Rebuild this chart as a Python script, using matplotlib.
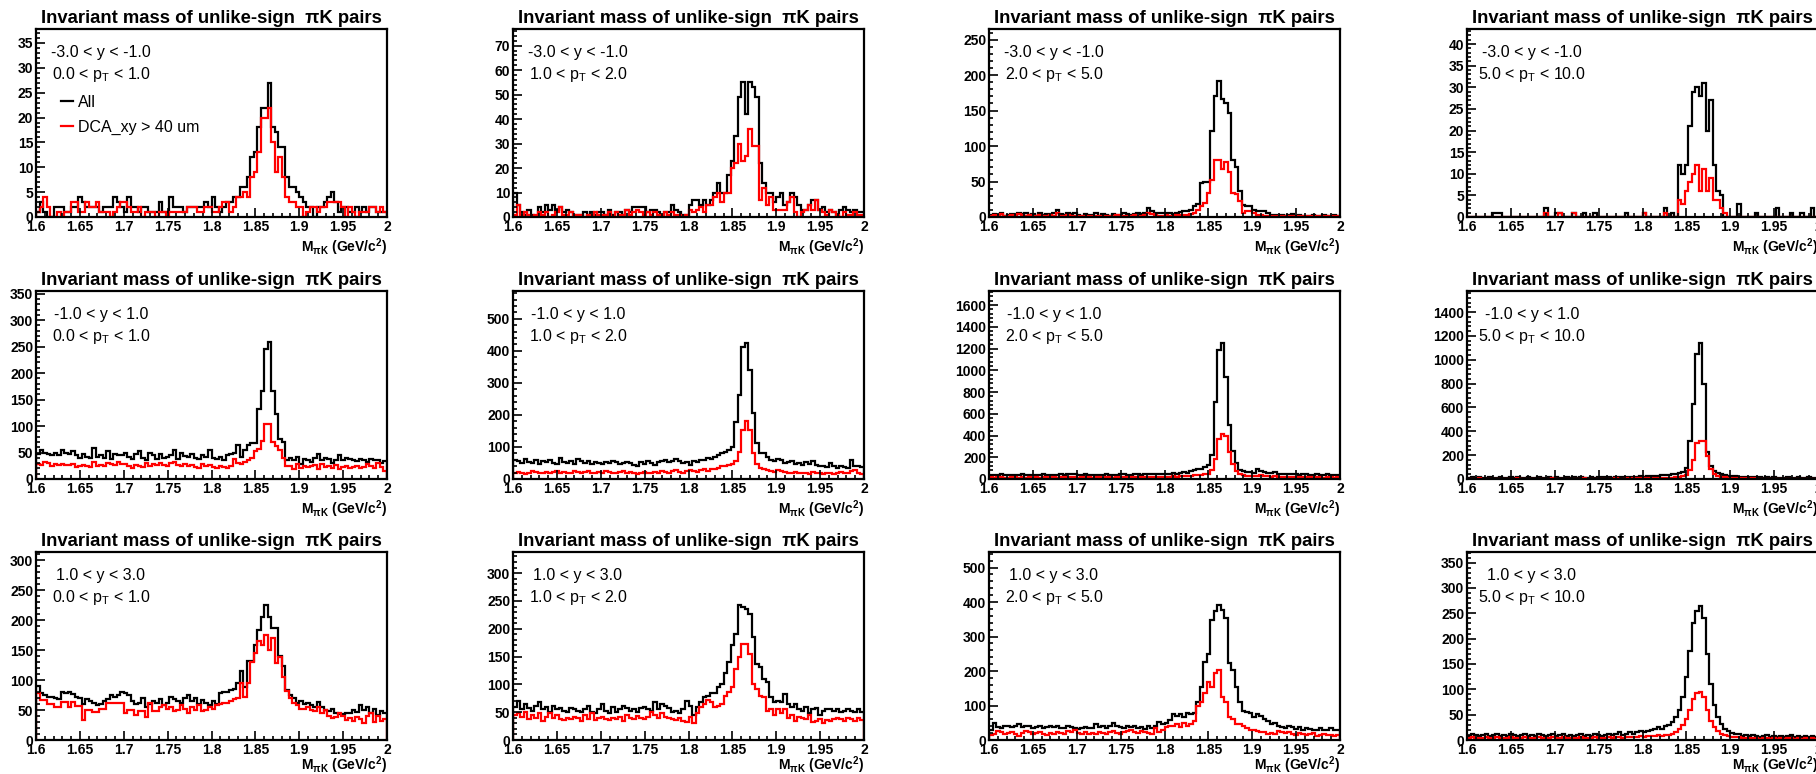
import numpy as np
import matplotlib.pyplot as plt
from matplotlib.ticker import MultipleLocator, AutoMinorLocator, FuncFormatter

# 100 bins of 4 MeV between 1.6 and 2.0 GeV/c^2
edges = np.linspace(1.6, 2.0, 101)

y_labels = ['-3.0 < y < -1.0', '-1.0 < y < 1.0', '1.0 < y < 3.0']
pt_labels = ['0.0 < p$_{T}$ < 1.0', '1.0 < p$_{T}$ < 2.0',
             '2.0 < p$_{T}$ < 5.0', '5.0 < p$_{T}$ < 10.0']

# ---- -3 < y < -1 ----
all_bwd_pt01 = [1, 3, 1, 0, 0, 2, 2, 2, 1, 1,
                2, 2, 4, 3, 2, 2, 2, 2, 1, 2,
                2, 2, 4, 3, 2, 1, 4, 2, 2, 1,
                2, 2, 1, 1, 1, 3, 1, 1, 4, 2,
                2, 2, 1, 2, 2, 2, 2, 2, 3, 2,
                4, 2, 1, 2, 3, 3, 4, 4, 6, 6,
                8, 12, 13, 18, 22, 22, 27, 18, 17, 14,
                14, 8, 6, 6, 5, 4, 3, 2, 2, 0,
                2, 2, 3, 4, 5, 3, 1, 2, 2, 1,
                1, 2, 1, 2, 1, 2, 2, 1, 1, 1]
dca_bwd_pt01 = [1, 2, 4, 2, 0, 0, 1, 0, 1, 1,
                3, 3, 1, 1, 3, 2, 2, 3, 1, 1,
                1, 0, 1, 2, 3, 3, 2, 1, 1, 2,
                0, 1, 1, 1, 0, 1, 1, 0, 1, 1,
                1, 1, 1, 2, 2, 2, 1, 1, 2, 2,
                1, 1, 2, 3, 3, 1, 2, 4, 4, 5,
                4, 8, 9, 13, 20, 20, 22, 15, 9, 12,
                8, 4, 3, 3, 2, 2, 0, 1, 2, 2,
                1, 2, 2, 3, 3, 3, 3, 2, 0, 2,
                1, 0, 1, 1, 1, 2, 2, 1, 2, 1]

all_bwd_pt12 = [10, 5, 2, 1, 3, 1, 0, 4, 2, 5,
                3, 5, 3, 4, 2, 3, 2, 1, 1, 1,
                2, 1, 2, 1, 2, 2, 1, 3, 1, 2,
                2, 1, 3, 2, 4, 4, 4, 4, 2, 3,
                3, 2, 1, 2, 2, 5, 3, 2, 1, 1,
                5, 7, 7, 5, 7, 5, 7, 10, 14, 10,
                10, 17, 23, 33, 49, 55, 42, 55, 53, 49,
                22, 14, 10, 10, 6, 8, 10, 5, 6, 10,
                8, 5, 3, 3, 5, 7, 7, 3, 4, 2,
                3, 2, 1, 3, 4, 3, 2, 3, 2, 2]
dca_bwd_pt12 = [1, 5, 1, 2, 1, 0, 1, 2, 1, 2,
                0, 1, 2, 4, 1, 1, 2, 1, 1, 1,
                0, 1, 1, 2, 1, 1, 1, 2, 0, 2,
                1, 1, 3, 1, 2, 3, 2, 1, 2, 1,
                2, 1, 1, 2, 1, 2, 1, 1, 0, 1,
                3, 2, 3, 4, 2, 5, 5, 8, 10, 6,
                10, 10, 20, 22, 30, 23, 25, 36, 29, 29,
                7, 12, 5, 8, 3, 3, 3, 3, 6, 8,
                2, 0, 2, 3, 5, 3, 7, 3, 2, 1,
                3, 2, 1, 0, 2, 1, 1, 2, 1, 1]

all_bwd_pt25 = [3, 4, 3, 5, 2, 3, 4, 3, 5, 4,
                6, 3, 4, 2, 6, 3, 4, 3, 5, 10,
                4, 3, 5, 4, 6, 3, 2, 4, 3, 3,
                5, 2, 4, 3, 2, 4, 3, 3, 5, 4,
                3, 4, 5, 4, 6, 12, 8, 6, 5, 5,
                6, 5, 4, 6, 7, 8, 9, 10, 15, 18,
                48, 49, 50, 121, 170, 191, 166, 160, 147, 80,
                71, 36, 17, 16, 15, 10, 9, 8, 8, 5,
                3, 3, 2, 3, 2, 3, 4, 2, 3, 2,
                2, 1, 3, 2, 2, 3, 1, 2, 3, 2]
dca_bwd_pt25 = [2, 3, 2, 4, 2, 2, 3, 2, 4, 3,
                2, 3, 2, 1, 3, 2, 2, 3, 1, 6,
                2, 2, 3, 2, 2, 1, 2, 2, 1, 2,
                2, 1, 2, 1, 1, 2, 3, 2, 2, 1,
                2, 3, 2, 2, 3, 6, 4, 3, 2, 2,
                3, 2, 2, 3, 3, 3, 3, 4, 6, 10,
                15, 20, 34, 52, 80, 80, 67, 77, 64, 34,
                32, 22, 6, 8, 8, 5, 3, 3, 2, 2,
                2, 1, 2, 1, 2, 1, 1, 2, 1, 1,
                2, 1, 1, 2, 1, 1, 1, 2, 1, 1]

all_bwd_pt510 = [0, 0, 0, 0, 0, 0, 0, 1, 1, 1,
                 0, 0, 0, 0, 0, 0, 0, 0, 0, 0,
                 0, 0, 2, 0, 0, 1, 1, 0, 0, 0,
                 1, 0, 0, 1, 0, 0, 1, 0, 0, 0,
                 0, 0, 0, 0, 0, 1, 0, 0, 0, 0,
                 1, 0, 0, 0, 0, 0, 2, 0, 1, 0,
                 12, 10, 12, 21, 29, 30, 28, 31, 20, 27,
                 12, 6, 5, 0, 0, 0, 0, 3, 0, 0,
                 0, 0, 1, 0, 0, 0, 0, 0, 2, 0,
                 0, 0, 1, 0, 0, 1, 0, 0, 2, 0]
dca_bwd_pt510 = [0, 0, 0, 0, 0, 0, 0, 0, 0, 0,
                 0, 0, 0, 0, 0, 0, 0, 0, 0, 0,
                 0, 0, 1, 0, 0, 0, 1, 0, 0, 0,
                 1, 0, 0, 0, 0, 0, 0, 0, 0, 0,
                 0, 0, 0, 0, 0, 0, 0, 0, 0, 0,
                 1, 0, 0, 0, 0, 0, 1, 0, 0, 0,
                 4, 3, 6, 8, 10, 12, 6, 11, 6, 9,
                 4, 4, 2, 1, 0, 0, 0, 0, 0, 0,
                 0, 0, 0, 0, 0, 0, 0, 0, 0, 0,
                 0, 0, 0, 0, 0, 0, 0, 0, 0, 0]

# ---- -1 < y < 1 ----
all_mid_pt01 = [48, 55, 50, 48, 46, 50, 45, 55, 50, 48,
                52, 45, 40, 47, 42, 40, 58, 42, 45, 40,
                52, 38, 48, 45, 46, 50, 41, 38, 48, 52,
                40, 35, 50, 45, 38, 48, 40, 42, 45, 55,
                38, 50, 44, 42, 48, 40, 38, 45, 42, 55,
                40, 38, 42, 36, 45, 47, 49, 65, 42, 55,
                65, 68, 68, 132, 166, 245, 258, 166, 122, 75,
                70, 35, 40, 35, 42, 28, 38, 35, 32, 40,
                48, 35, 40, 38, 30, 36, 45, 35, 40, 38,
                35, 34, 38, 36, 32, 38, 35, 36, 30, 34]
dca_mid_pt01 = [28, 27, 32, 30, 25, 28, 27, 29, 26, 26,
                28, 22, 24, 27, 25, 23, 32, 25, 26, 24,
                30, 28, 27, 32, 29, 28, 25, 20, 26, 24,
                22, 30, 25, 28, 26, 30, 27, 24, 30, 32,
                27, 25, 28, 24, 26, 22, 20, 28, 25, 26,
                22, 21, 24, 22, 20, 24, 38, 30, 28, 33,
                35, 40, 52, 56, 72, 103, 103, 70, 62, 54,
                40, 24, 25, 18, 28, 20, 25, 22, 24, 26,
                18, 28, 22, 25, 20, 26, 18, 22, 24, 20,
                22, 25, 20, 22, 28, 24, 20, 30, 22, 16]

all_mid_pt12 = [58, 55, 50, 62, 52, 50, 58, 48, 55, 52,
                60, 50, 48, 65, 52, 50, 55, 48, 62, 55,
                50, 55, 48, 52, 50, 48, 52, 50, 55, 52,
                48, 50, 52, 50, 45, 40, 52, 48, 55, 50,
                45, 52, 55, 60, 52, 55, 62, 55, 50, 52,
                45, 55, 52, 60, 58, 65, 62, 68, 75, 80,
                85, 90, 100, 178, 262, 412, 424, 341, 206, 112,
                80, 80, 68, 60, 55, 62, 58, 50, 52, 55,
                48, 50, 45, 52, 48, 55, 45, 42, 40, 38,
                50, 40, 35, 42, 38, 35, 58, 40, 42, 38]
dca_mid_pt12 = [20, 22, 18, 15, 20, 25, 22, 18, 20, 22,
                18, 22, 25, 20, 22, 18, 20, 25, 22, 20,
                22, 25, 20, 18, 22, 20, 25, 22, 20, 18,
                22, 25, 20, 22, 18, 15, 20, 22, 18, 20,
                22, 20, 25, 22, 18, 25, 28, 22, 20, 25,
                28, 25, 22, 28, 30, 25, 32, 30, 35, 40,
                40, 45, 48, 55, 84, 154, 180, 154, 80, 47,
                33, 31, 28, 25, 22, 28, 25, 22, 20, 18,
                22, 20, 18, 20, 15, 22, 18, 20, 15, 18,
                20, 15, 18, 22, 18, 20, 25, 28, 18, 15]

all_mid_pt25 = [40, 35, 38, 42, 36, 40, 38, 35, 40, 42,
                38, 36, 40, 38, 35, 42, 38, 40, 36, 38,
                42, 40, 45, 50, 42, 40, 38, 42, 40, 38,
                36, 40, 38, 42, 40, 38, 40, 42, 45, 40,
                38, 45, 42, 40, 48, 45, 42, 48, 45, 50,
                48, 45, 52, 50, 55, 60, 58, 75, 80, 90,
                95, 110, 130, 225, 710, 1188, 1250, 935, 494, 262,
                145, 83, 70, 65, 60, 55, 90, 75, 60, 55,
                52, 60, 50, 48, 45, 42, 48, 45, 40, 42,
                45, 40, 38, 42, 40, 38, 42, 36, 38, 40]
dca_mid_pt25 = [15, 12, 18, 15, 10, 12, 15, 18, 12, 14,
                12, 15, 10, 14, 12, 15, 18, 12, 15, 12,
                18, 15, 20, 18, 15, 12, 15, 18, 15, 12,
                15, 18, 12, 15, 14, 12, 18, 15, 20, 15,
                15, 18, 20, 15, 22, 18, 20, 22, 18, 20,
                22, 20, 25, 22, 25, 28, 30, 32, 35, 38,
                40, 45, 50, 80, 185, 370, 417, 400, 247, 139,
                71, 45, 35, 30, 28, 25, 30, 35, 28, 25,
                22, 25, 20, 22, 18, 20, 15, 18, 20, 15,
                18, 15, 12, 15, 18, 12, 15, 14, 12, 15]

all_mid_pt510 = [12, 15, 10, 14, 12, 10, 15, 12, 10, 14,
                 12, 10, 15, 12, 14, 10, 12, 15, 12, 10,
                 14, 12, 10, 15, 12, 14, 10, 12, 15, 12,
                 14, 12, 15, 12, 10, 14, 12, 15, 18, 14,
                 15, 12, 18, 15, 14, 18, 15, 20, 18, 22,
                 20, 22, 25, 22, 28, 30, 32, 35, 40, 45,
                 50, 60, 92, 316, 633, 1050, 1143, 800, 224, 112,
                 64, 50, 40, 35, 28, 25, 22, 20, 18, 20,
                 15, 18, 15, 14, 12, 15, 12, 14, 12, 10,
                 12, 14, 10, 12, 15, 12, 10, 14, 12, 10]
dca_mid_pt510 = [3, 4, 2, 5, 3, 4, 2, 3, 4, 3,
                 2, 4, 3, 2, 5, 3, 4, 2, 3, 4,
                 3, 2, 4, 3, 5, 2, 3, 4, 3, 2,
                 4, 3, 2, 5, 3, 4, 3, 2, 4, 3,
                 3, 4, 5, 3, 4, 5, 4, 5, 6, 5,
                 6, 5, 7, 6, 8, 8, 10, 10, 12, 15,
                 18, 25, 35, 75, 162, 300, 320, 316, 190, 80,
                 40, 25, 18, 14, 10, 8, 7, 6, 5, 6,
                 4, 5, 4, 3, 4, 3, 4, 3, 2, 3,
                 3, 4, 2, 3, 4, 3, 2, 3, 4, 3]

# ---- 1 < y < 3 ----
all_fwd_pt01 = [90, 78, 75, 72, 72, 70, 68, 80, 78, 80,
                76, 72, 70, 60, 68, 65, 62, 58, 60, 65,
                68, 75, 72, 75, 80, 78, 75, 65, 60, 62,
                70, 55, 60, 65, 62, 68, 58, 62, 72, 68,
                65, 62, 70, 75, 65, 70, 60, 66, 62, 58,
                65, 60, 78, 80, 80, 83, 85, 95, 116, 88,
                132, 132, 159, 184, 206, 226, 206, 187, 187, 140,
                123, 84, 75, 70, 62, 65, 60, 62, 58, 55,
                63, 55, 50, 48, 52, 45, 44, 43, 45, 45,
                50, 46, 58, 50, 55, 45, 52, 42, 48, 45]
dca_fwd_pt01 = [78, 67, 67, 60, 60, 55, 55, 63, 63, 55,
                63, 57, 57, 33, 50, 50, 47, 47, 52, 52,
                62, 62, 62, 62, 62, 45, 50, 50, 42, 49,
                49, 38, 62, 49, 49, 55, 58, 52, 55, 48,
                50, 58, 52, 45, 55, 50, 58, 48, 50, 55,
                52, 58, 60, 62, 62, 65, 68, 70, 95, 72,
                96, 130, 145, 165, 158, 175, 150, 170, 128, 138,
                105, 82, 70, 62, 58, 52, 52, 55, 50, 48,
                55, 45, 50, 40, 36, 38, 45, 40, 34, 36,
                32, 38, 35, 28, 40, 45, 30, 40, 32, 35]

all_fwd_pt12 = [60, 70, 55, 65, 58, 52, 62, 68, 55, 60,
                50, 62, 55, 58, 52, 50, 58, 55, 52, 50,
                55, 62, 50, 48, 55, 65, 52, 48, 60, 50,
                55, 62, 58, 52, 55, 50, 58, 60, 55, 52,
                68, 55, 65, 62, 58, 50, 52, 48, 55, 70,
                62, 45, 60, 68, 78, 80, 85, 85, 95, 100,
                120, 140, 170, 190, 243, 240, 235, 226, 185, 137,
                131, 110, 104, 77, 68, 70, 68, 82, 65, 60,
                65, 55, 52, 60, 48, 55, 58, 45, 52, 55,
                55, 52, 55, 50, 53, 55, 52, 50, 55, 50]
dca_fwd_pt12 = [45, 48, 42, 50, 38, 45, 40, 48, 35, 42,
                48, 40, 45, 38, 36, 40, 38, 42, 40, 35,
                45, 38, 48, 36, 40, 42, 38, 36, 40, 38,
                42, 35, 45, 40, 38, 44, 40, 38, 42, 50,
                45, 40, 48, 42, 40, 38, 36, 40, 35, 32,
                42, 30, 48, 60, 65, 72, 68, 60, 62, 65,
                80, 87, 95, 128, 150, 172, 173, 155, 101, 92,
                80, 78, 53, 56, 45, 55, 48, 55, 40, 45,
                35, 42, 40, 38, 45, 32, 35, 38, 30, 36,
                35, 37, 40, 37, 35, 40, 38, 35, 40, 36]

all_fwd_pt25 = [30, 50, 38, 35, 40, 42, 38, 40, 45, 38,
                42, 40, 36, 38, 42, 35, 38, 40, 38, 42,
                36, 34, 40, 38, 35, 32, 36, 38, 35, 34,
                45, 38, 40, 35, 42, 48, 40, 38, 36, 42,
                38, 40, 35, 38, 32, 40, 36, 42, 52, 45,
                50, 58, 76, 71, 76, 66, 78, 75, 78, 110,
                153, 226, 250, 348, 375, 391, 377, 353, 223, 202,
                155, 110, 85, 80, 78, 66, 75, 70, 60, 55,
                45, 50, 42, 38, 35, 40, 38, 32, 38, 30,
                35, 32, 30, 28, 35, 30, 28, 35, 30, 28]
dca_fwd_pt25 = [15, 18, 25, 22, 18, 20, 22, 18, 12, 20,
                25, 22, 18, 20, 22, 18, 15, 20, 18, 22,
                20, 18, 25, 22, 28, 20, 18, 22, 16, 20,
                18, 22, 20, 18, 22, 25, 20, 18, 22, 25,
                28, 22, 20, 25, 22, 20, 18, 35, 22, 28,
                38, 42, 40, 45, 38, 48, 42, 45, 56, 100,
                110, 136, 168, 155, 194, 202, 124, 110, 66, 61,
                47, 45, 40, 35, 30, 28, 25, 22, 22, 18,
                20, 18, 25, 22, 20, 22, 18, 15, 20, 18,
                15, 18, 20, 12, 15, 18, 14, 15, 12, 15]

all_fwd_pt510 = [8, 12, 10, 8, 10, 12, 8, 10, 12, 8,
                 10, 8, 12, 10, 8, 10, 12, 8, 10, 8,
                 12, 10, 8, 10, 12, 8, 10, 12, 8, 10,
                 8, 10, 12, 8, 10, 8, 12, 10, 8, 10,
                 12, 10, 12, 15, 10, 12, 15, 12, 15, 18,
                 15, 18, 20, 22, 25, 22, 28, 30, 35, 45,
                 60, 85, 125, 175, 230, 255, 265, 240, 170, 110,
                 70, 45, 32, 22, 18, 14, 12, 12, 8, 10,
                 8, 10, 8, 6, 8, 10, 6, 8, 6, 8,
                 6, 8, 10, 6, 8, 6, 8, 6, 8, 6]
dca_fwd_pt510 = [3, 5, 4, 3, 4, 5, 3, 4, 5, 3,
                 4, 3, 5, 4, 3, 4, 5, 3, 4, 3,
                 5, 4, 3, 4, 5, 3, 4, 5, 3, 4,
                 3, 4, 5, 3, 4, 3, 5, 4, 3, 4,
                 5, 4, 5, 6, 4, 5, 6, 5, 6, 7,
                 6, 7, 8, 8, 9, 8, 10, 10, 12, 15,
                 22, 30, 42, 60, 80, 92, 95, 85, 60, 38,
                 25, 18, 12, 10, 7, 6, 5, 5, 3, 4,
                 3, 4, 3, 2, 3, 4, 2, 3, 2, 3,
                 2, 3, 4, 2, 3, 2, 3, 2, 3, 2]

all_hists = [[all_bwd_pt01, all_bwd_pt12, all_bwd_pt25, all_bwd_pt510],
             [all_mid_pt01, all_mid_pt12, all_mid_pt25, all_mid_pt510],
             [all_fwd_pt01, all_fwd_pt12, all_fwd_pt25, all_fwd_pt510]]
dca_hists = [[dca_bwd_pt01, dca_bwd_pt12, dca_bwd_pt25, dca_bwd_pt510],
             [dca_mid_pt01, dca_mid_pt12, dca_mid_pt25, dca_mid_pt510],
             [dca_fwd_pt01, dca_fwd_pt12, dca_fwd_pt25, dca_fwd_pt510]]

# frame ranges as drawn in the canvas
y_max = [[37.8, 76.8, 265, 43.5],
         [355, 587, 1729, 1577],
         [314, 338, 545, 371]]
y_step = [[5, 10, 50, 5],
          [50, 100, 200, 200],
          [50, 50, 100, 50]]

plt.rcParams['font.family'] = ['Liberation Sans', 'DejaVu Sans']
plt.rcParams['font.weight'] = 'bold'
plt.rcParams['mathtext.default'] = 'regular'

W, H = 1816, 774
fig = plt.figure(figsize=(W / 100, H / 100), dpi=100)

col_left = [36, 513, 989, 1467]
row_top = [29, 291, 552]
ax_w, ax_h = 351, 188
xlabel_y = [-0.16, -0.16, -0.135]

for i in range(3):
    for j in range(4):
        ax = fig.add_axes([col_left[j] / W, 1 - (row_top[i] + ax_h) / H, ax_w / W, ax_h / H])
        h_all = ax.stairs(all_hists[i][j], edges, color='black', lw=1.6)
        h_dca = ax.stairs(dca_hists[i][j], edges, color='red', lw=1.6)

        ax.set_xlim(1.6, 2.0)
        ax.set_ylim(0, y_max[i][j])
        ax.xaxis.set_major_locator(MultipleLocator(0.05))
        ax.xaxis.set_minor_locator(MultipleLocator(0.01))
        ax.xaxis.set_major_formatter(FuncFormatter(lambda v, p: f'{v:g}'))
        ax.yaxis.set_major_locator(MultipleLocator(y_step[i][j]))
        ax.yaxis.set_minor_locator(AutoMinorLocator(5))
        ax.tick_params(which='both', direction='in', top=False, right=False,
                       width=1.2, labelsize=10)
        ax.tick_params(which='major', length=6.5)
        ax.tick_params(which='minor', length=3.2)
        ax.tick_params(axis='x', pad=2)
        ax.tick_params(axis='y', pad=2)
        for lbl in ax.get_xticklabels() + ax.get_yticklabels():
            lbl.set_fontweight('bold')
        for s in ax.spines.values():
            s.set_linewidth(1.6)

        ax.set_title('Invariant mass of unlike-sign  πK pairs', fontsize=13.3,
                     fontweight='bold', pad=4)
        ax.text(1.0, xlabel_y[i], 'M$_{πK}$ (GeV/c$^{2}$)', transform=ax.transAxes,
                ha='right', va='center', fontsize=10, fontweight='bold')

        ax.text(0.185, 0.873, y_labels[i], transform=ax.transAxes,
                ha='center', va='center', fontsize=11.5, fontweight='normal')
        ax.text(0.185, 0.757, pt_labels[j], transform=ax.transAxes,
                ha='center', va='center', fontsize=11.5, fontweight='normal')

        if i == 0 and j == 0:
            ax.legend([h_all, h_dca], ['All', 'DCA_xy > 40 um'],
                      loc='upper left', bbox_to_anchor=(0.07, 0.65),
                      frameon=False, borderpad=0, borderaxespad=0,
                      handlelength=0.8, handletextpad=0.3, labelspacing=0.6,
                      prop={'size': 11.5, 'weight': 'normal'})

fig.savefig('out.png', dpi=100)
